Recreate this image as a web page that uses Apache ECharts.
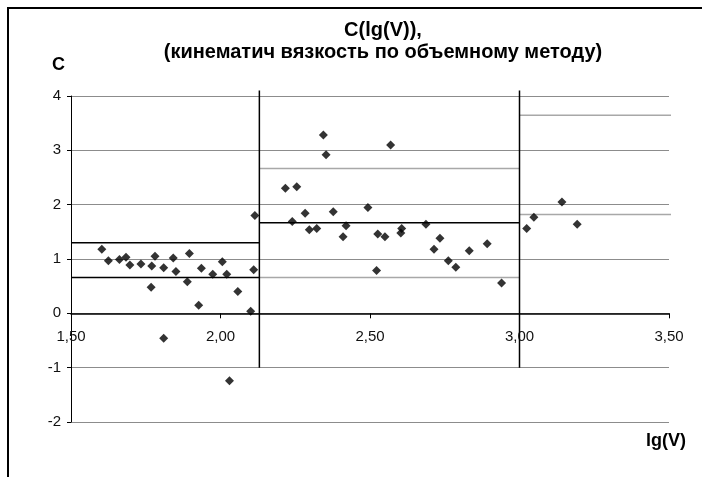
<!DOCTYPE html>
<html>
<head>
<meta charset="utf-8">
<script src="https://cdn.jsdelivr.net/npm/echarts@6/dist/echarts.min.js"></script>
<style>
html,body{margin:0;padding:0;background:#fff;}
#chart{width:702px;height:477px;}
</style>
</head>
<body>
<div id="chart"></div>
<script>
// ---- data ----
const titleLine1 = 'C(lg(V)),';
const titleLine2 = '(кинематич вязкость по объемному методу)';
const yAxisTitle = 'C';
const xAxisTitle = 'lg(V)';

const lgV = [1.603,1.625,1.662,1.684,1.697,1.734,1.768,1.770,1.781,1.810,1.810,1.842,1.851,1.889,1.896,1.927,1.936,1.974,2.006,2.021,2.030,2.058,2.101,2.111,2.115,
             2.217,2.240,2.255,2.283,2.297,2.322,2.344,2.353,2.377,2.410,2.420,2.493,2.522,2.526,2.550,2.569,2.603,2.606,2.687,2.714,2.734,2.762,2.787,2.832,2.892,2.940,
             3.024,3.048,3.142,3.193];
const cVals = [1.18,0.97,0.99,1.03,0.89,0.91,0.48,0.87,1.05,0.84,-0.46,1.02,0.77,0.58,1.10,0.15,0.83,0.72,0.95,0.72,-1.24,0.40,0.04,0.80,1.80,
               2.30,1.69,2.33,1.84,1.54,1.56,3.28,2.92,1.87,1.41,1.61,1.95,0.79,1.46,1.41,3.10,1.48,1.56,1.64,1.18,1.38,0.97,0.85,1.15,1.28,0.56,
               1.56,1.77,2.05,1.64];

// region boundaries (vertical lines) and their vertical extent
const boundaryX = [2.13, 3.00];
const boundaryYRange = [-1, 4.1];
// region 1 levels
const r1X = [1.50, 2.13];
const r1Levels = [1.30, 0.66];
// region 2 mean and band
const r2X = [2.13, 3.00];
const r2Mean = 1.667;
const r2Band = [2.665, 0.66];
// region 3 band
const r3X = [3.00, 3.52];
const r3Band = [3.645, 1.82];

const xTicks = [1.5, 2.0, 2.5, 3.0, 3.5];
const yTicks = [-2, -1, 0, 1, 2, 3, 4];

// ---- build chart ----
const FONT = '"Liberation Sans", Arial, sans-serif';
const chart = echarts.init(document.getElementById('chart'), null, {renderer: 'canvas'});

const gridTop = 96, gridBottom = 55, chartH = 477;
const gridH = chartH - gridTop - gridBottom;
const yMin = yTicks[0], yMax = yTicks[yTicks.length - 1];
// move the x axis (line, ticks, labels) up to the C = 0 level
const xAxisOffset = -gridH * (0 - yMin) / (yMax - yMin);

function hLine(xr, y, color, width, name) {
  return {
    type: 'line', name: name, silent: true, clip: false, showSymbol: false, symbol: 'none',
    data: [[xr[0], y], [xr[1], y]],
    lineStyle: {color: color, width: width}, z: 3, animation: false
  };
}
const series = [];
boundaryX.forEach((bx, i) => {
  series.push({
    type: 'line', name: 'boundary' + i, silent: true, clip: false, symbol: 'none',
    data: [[bx, boundaryYRange[0]], [bx, boundaryYRange[1]]],
    lineStyle: {color: '#000', width: 1.5}, z: 4, animation: false
  });
});
r1Levels.forEach((v, i) => series.push(hLine(r1X, v, '#000', 1.5, 'r1_' + i)));
series.push(hLine(r2X, r2Mean, '#000', 1.5, 'r2mean'));
r2Band.forEach((v, i) => series.push(hLine(r2X, v, '#a8a8a8', 1.5, 'r2_' + i)));
r3Band.forEach((v, i) => series.push(hLine(r3X, v, '#a8a8a8', 1.5, 'r3_' + i)));
series.push({
  type: 'scatter', name: 'C', symbol: 'diamond', symbolSize: 9,
  data: lgV.map((x, i) => [x, cVals[i]]),
  itemStyle: {color: '#000'}, z: 10, animation: false
});

chart.setOption({
  animation: false,
  backgroundColor: '#fff',
  title: {
    text: titleLine1 + '\n' + titleLine2,
    left: 378, top: 14, textAlign: 'center',
    textStyle: {fontFamily: FONT, fontWeight: 'bold', fontSize: 20, lineHeight: 22, color: '#000'}
  },
  grid: {left: 71, right: 33, top: gridTop, bottom: gridBottom, containLabel: false},
  xAxis: {
    type: 'value', min: xTicks[0], max: xTicks[xTicks.length - 1], interval: 0.5,
    position: 'bottom', offset: xAxisOffset,
    axisLine: {onZero: false, lineStyle: {color: '#000', width: 1.5}},
    axisTick: {show: true, length: 5, inside: false, lineStyle: {color: '#000'}},
    axisLabel: {margin: 16, color: '#111', fontFamily: FONT, fontSize: 15,
      formatter: v => v.toFixed(2).replace('.', ',')},
    splitLine: {show: false}
  },
  yAxis: {
    type: 'value', min: yMin, max: yMax, interval: 1,
    axisLine: {show: true, onZero: false, lineStyle: {color: '#000', width: 1}},
    axisTick: {show: true, length: 4, lineStyle: {color: '#000'}},
    axisLabel: {margin: 10, color: '#111', fontFamily: FONT, fontSize: 15,
      formatter: v => String(v)},
    splitLine: {show: true, lineStyle: {color: '#8c8c8c', width: 1}}
  },
  graphic: [
    {type: 'rect', shape: {x: 8, y: 8, width: 900, height: 800}, style: {fill: null, stroke: '#000', lineWidth: 2}, silent: true, z: 0},
    {type: 'text', left: 52, top: 56, style: {text: yAxisTitle, fontFamily: FONT, fontWeight: 'bold', fontSize: 18, fill: '#000'}},
    {type: 'text', left: 646, top: 432, style: {text: xAxisTitle, fontFamily: FONT, fontWeight: 'bold', fontSize: 18, fill: '#000'}}
  ],
  series: series
});
</script>
</body>
</html>
